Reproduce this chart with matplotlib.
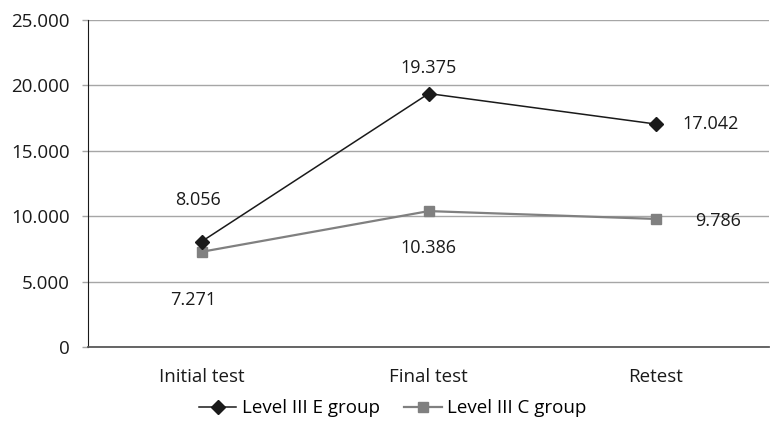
import matplotlib.pyplot as plt

plt.rcParams['font.family'] = ['Open Sans', 'DejaVu Sans']

categories = ['Initial test', 'Final test', 'Retest']
e_group = [8.056, 19.375, 17.042]
c_group = [7.271, 10.386, 9.786]
y_ticks = [0, 5, 10, 15, 20, 25]

fig = plt.figure(figsize=(7.7, 4.32), dpi=100)
ax = fig.add_axes([0.1143, 0.197, 0.885, 0.7567])

x = list(range(len(categories)))
ax.plot(x, e_group, color='#1a1a1a', lw=1.1, marker='D', ms=7.5,
        label='Level III E group', zorder=4)
ax.plot(x, c_group, color='#808080', lw=1.6, marker='s', ms=7,
        label='Level III C group', zorder=3)

# value labels, placed around each point in pixels
e_off = [(-4, 42), (0, 26), (55, 0)]
c_off = [(-8, -48), (0, -37), (62, -2)]
for xi, v, off in zip(x, e_group, e_off):
    ax.annotate(f'{v:.3f}', (xi, v), xytext=off, textcoords='offset pixels',
                ha='center', va='center', fontsize=13, color='#1a1a1a')
for xi, v, off in zip(x, c_group, c_off):
    ax.annotate(f'{v:.3f}', (xi, v), xytext=off, textcoords='offset pixels',
                ha='center', va='center', fontsize=13, color='#1a1a1a')

ax.set_xlim(-0.5, 2.5)
ax.set_ylim(0, 25)
ax.set_yticks(y_ticks)
ax.set_yticklabels(['0' if t == 0 else f'{t:.3f}' for t in y_ticks])
ax.set_xticks(x)
ax.set_xticklabels(categories)
ax.tick_params(axis='x', length=0, pad=15, labelsize=13.5, colors='#1a1a1a')
ax.tick_params(axis='y', length=4, width=1, color='#a6a6a6', pad=9,
               labelsize=13.5, labelcolor='#1a1a1a')

ax.grid(axis='y', color='#a6a6a6', lw=1)
ax.set_axisbelow(True)
for s in ['top', 'right']:
    ax.spines[s].set_visible(False)
ax.spines['left'].set_color('#1a1a1a')
ax.spines['bottom'].set_color('#595959')
ax.spines['bottom'].set_linewidth(1.3)

fig.legend(loc='center', bbox_to_anchor=(0.51, 0.055), ncol=2, frameon=False,
           fontsize=13.5, handlelength=2.0, handletextpad=0.27,
           columnspacing=1.33)

fig.savefig('out.png', dpi=100)
